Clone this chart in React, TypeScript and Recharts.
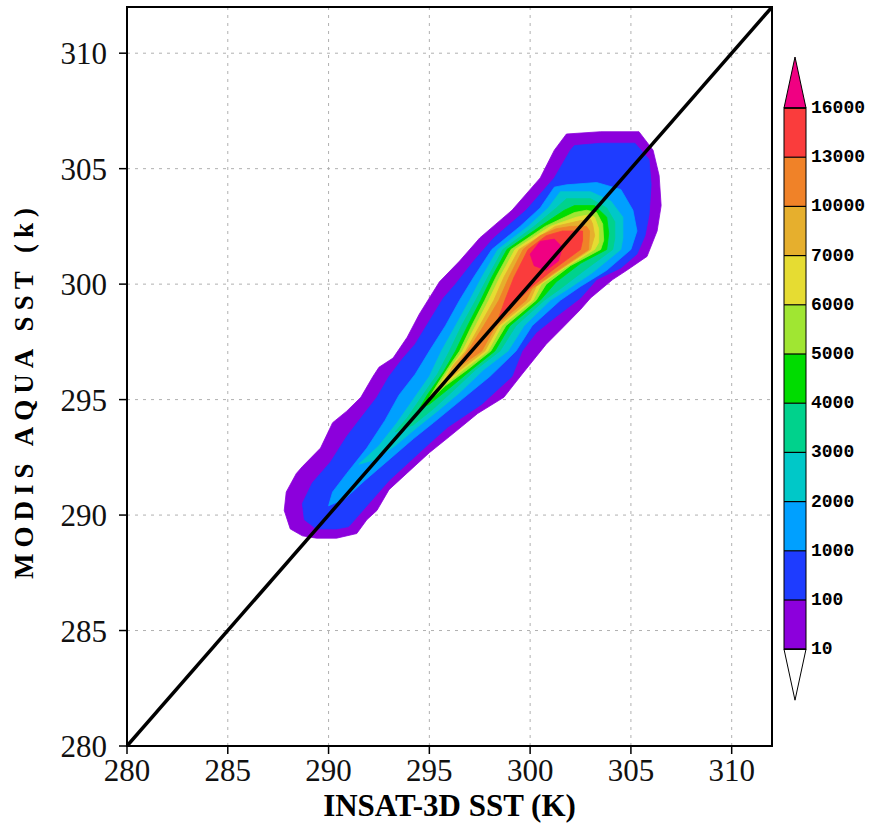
import { ScatterChart, Scatter, XAxis, YAxis, CartesianGrid, ReferenceArea } from 'recharts';

// axis ticks (both axes, K)
const axisTicks = [280, 285, 290, 295, 300, 305, 310];
const oneToOne = [[280, 280], [312, 312]];

// filled count contours, [INSAT-3D SST, MODIS AQUA SST]
const count10 = [
  [301.8, 306.5], [303.5, 306.6], [305.4, 306.6], [306.1, 305.8], [306.4, 304.7], [306.5, 303.4], [306.3, 302.3],
  [305.8, 301.2], [304.8, 300.6], [304.1, 300.2], [303.0, 299.4], [302.5, 298.9], [301.6, 298.1], [300.8, 297.4],
  [299.6, 296.1], [298.7, 295.1], [297.4, 294.4], [296.0, 293.4], [295.0, 292.7], [294.0, 291.9], [293.0, 291.1],
  [292.4, 290.2], [291.9, 289.8], [291.4, 289.2], [290.4, 289.0], [289.4, 289.0], [288.7, 289.1], [288.1, 289.4],
  [287.8, 290.2], [287.9, 291.0], [288.4, 291.8], [288.7, 292.1], [289.6, 292.9], [290.2, 294.0], [290.9, 294.5],
  [291.6, 295.1], [292.2, 296.0], [292.5, 296.4], [293.2, 296.8], [293.9, 297.7], [294.5, 298.7], [295.5, 300.1],
  [296.5, 301.0], [297.5, 302.0], [299.1, 303.2], [300.5, 304.6], [301.2, 305.8],
];
const count100 = [
  [303.5, 306.1], [305.2, 306.1], [305.9, 305.4], [306.0, 304.3], [305.9, 303.0], [305.7, 302.1], [305.3, 301.3],
  [304.5, 300.7], [303.3, 300.2], [302.5, 299.4], [301.3, 298.6], [300.3, 297.9], [299.6, 297.1], [299.1, 296.0],
  [297.6, 294.8], [295.9, 293.8], [295.0, 293.1], [294.0, 292.3], [293.0, 291.5], [292.1, 290.6], [291.4, 289.9],
  [291.0, 289.5], [290.4, 289.4], [289.4, 289.4], [288.8, 289.8], [288.7, 290.5], [289.2, 291.4], [290.1, 292.3],
  [290.9, 293.4], [291.6, 294.2], [292.4, 295.1], [293.0, 296.0], [293.7, 296.8], [294.3, 297.4], [295.0, 298.4],
  [295.7, 299.4], [296.3, 300.0], [297.2, 301.0], [298.2, 302.0], [299.8, 303.2], [301.2, 304.6], [302.0, 305.8],
  [302.2, 306.0],
];
const count1000 = [
  [301.8, 304.3], [303.3, 304.4], [304.5, 304.1], [305.1, 303.2], [305.3, 302.3], [305.0, 301.5], [303.8, 300.6],
  [302.5, 299.9], [301.5, 299.3], [300.1, 298.2], [299.3, 297.1], [298.0, 296.0], [296.6, 295.0], [295.2, 294.0],
  [294.2, 293.3], [293.0, 292.4], [291.8, 291.5], [290.8, 290.7], [290.0, 290.4], [290.2, 291.0], [290.9, 291.8],
  [291.9, 292.9], [292.8, 294.1], [293.5, 295.2], [294.3, 296.1], [295.0, 297.1], [295.8, 298.2], [296.5, 299.3],
  [297.2, 300.3], [298.1, 301.5], [299.5, 302.5], [300.5, 303.3], [301.2, 304.2],
];
const count2000 = [
  [301.5, 304.0], [303.0, 304.0], [304.0, 303.6], [304.6, 302.9], [304.6, 302.0], [304.5, 301.5], [303.1, 300.5],
  [301.9, 299.8], [301.0, 299.3], [299.7, 298.2], [298.9, 297.1], [297.7, 296.3], [296.5, 295.3], [295.4, 294.5],
  [294.4, 293.8], [293.3, 293.0], [292.3, 292.4], [291.5, 292.2], [292.5, 293.0], [293.4, 294.0], [294.2, 295.0],
  [295.0, 296.0], [295.6, 297.1], [296.3, 298.2], [297.0, 299.3], [297.6, 300.3], [298.4, 301.5], [299.9, 302.5],
  [300.9, 303.3],
];
const count3000 = [
  [301.8, 303.7], [303.0, 303.7], [303.8, 303.3], [304.2, 302.7], [304.2, 302.0], [304.1, 301.5], [302.7, 300.6],
  [301.5, 299.8], [300.7, 299.3], [299.3, 298.2], [298.5, 297.1], [297.3, 296.3], [296.2, 295.4], [295.2, 294.6],
  [294.2, 293.9], [293.3, 293.6], [293.9, 294.2], [294.6, 295.1], [295.4, 296.1], [296.0, 297.1], [296.6, 298.2],
  [297.3, 299.3], [297.9, 300.3], [298.65, 301.5], [300.2, 302.5], [301.3, 303.3],
];
const count4000 = [
  [302.2, 303.4], [303.2, 303.4], [303.8, 302.9], [303.9, 302.2], [303.8, 301.5], [302.5, 300.9], [301.3, 300.1],
  [300.5, 299.3], [299.0, 298.2], [298.25, 297.1], [297.1, 296.3], [296.0, 295.5], [295.0, 294.8], [294.5, 294.6],
  [294.9, 295.2], [295.7, 296.2], [296.3, 297.1], [296.9, 298.2], [297.55, 299.3], [298.1, 300.3], [298.85, 301.5],
  [300.5, 302.5], [301.7, 303.2],
];
const count5000 = [
  [302.8, 303.2], [303.3, 303.1], [303.6, 302.6], [303.65, 301.9], [303.5, 301.5], [302.0, 300.8], [300.8, 300.0],
  [300.3, 299.3], [298.8, 298.2], [298.05, 297.1], [296.9, 296.3], [295.8, 295.6], [295.3, 295.2], [295.0, 295.1],
  [295.5, 295.8], [296.1, 296.6], [296.5, 297.1], [297.1, 298.2], [297.75, 299.3], [298.3, 300.3], [299.05, 301.5],
  [300.75, 302.5], [302.2, 303.1],
];
const count6000 = [
  [302.9, 303.0], [303.2, 302.9], [303.4, 302.4], [303.4, 301.8], [303.2, 301.5], [301.7, 300.7], [300.55, 300.0],
  [300.15, 299.3], [298.6, 298.2], [297.9, 297.1], [296.7, 296.3], [295.7, 295.6], [295.4, 295.5], [295.9, 296.2],
  [296.65, 297.1], [297.3, 298.2], [297.95, 299.3], [298.5, 300.3], [299.25, 301.5], [301.0, 302.5], [302.3, 302.9],
];
const count7000 = [
  [303.0, 302.8], [303.1, 302.6], [303.2, 302.1], [303.0, 301.5], [301.45, 300.6], [300.3, 299.9], [300.0, 299.3],
  [298.45, 298.2], [297.75, 297.1], [296.55, 296.3], [296.0, 295.9], [295.8, 295.9], [296.2, 296.5], [296.8, 297.1],
  [297.5, 298.2], [298.2, 299.3], [298.7, 300.3], [299.45, 301.5], [301.25, 302.5], [302.5, 302.75],
];
const count10000 = [
  [302.8, 302.5], [302.95, 302.3], [302.9, 301.5], [301.2, 300.5], [300.1, 299.8], [299.8, 299.3], [298.3, 298.2],
  [297.6, 297.1], [296.6, 296.5], [296.3, 296.4], [297.05, 297.3], [297.7, 298.2], [298.45, 299.3], [298.95, 300.3],
  [299.65, 301.5], [300.5, 302.1], [301.3, 302.4], [302.0, 302.5],
];
const count13000 = [
  [302.6, 302.3], [302.6, 301.9], [302.5, 301.5], [301.1, 300.6], [300.1, 299.9], [299.4, 299.3], [298.5, 298.5],
  [298.3, 298.2], [298.75, 299.3], [299.2, 300.3], [299.9, 301.5], [300.8, 302.1], [301.6, 302.3],
];
const count16000 = [
  [300.0, 301.3], [300.5, 301.85], [301.2, 301.95], [301.6, 301.6], [301.4, 301.0], [300.8, 300.6], [300.2, 300.8],
];

// colour bar
const shadeLevels = [10, 100, 1000, 2000, 3000, 4000, 5000, 6000, 7000, 10000, 13000, 16000];
const shadeColors = [
  '#8c00dc', '#1e3cff', '#00a0ff', '#00c8c8', '#00d28c', '#00dc00',
  '#a0e632', '#e6dc32', '#e6af2d', '#f08228', '#fa3c3c', '#f00082',
];
const shades = [
  count10, count100, count1000, count2000, count3000, count4000,
  count5000, count6000, count7000, count10000, count13000, count16000,
];

const toPoints = (pairs: number[][]) => pairs.map(([x, y]) => ({ x, y }));

const filled = (color: string) => (props: any) => (
  <polygon
    points={props.points.map((p: any) => `${p.x},${p.y}`).join(' ')}
    fill={color}
    stroke={color}
    strokeWidth={0.8}
    strokeLinejoin="round"
  />
);

const noDot = () => <g />;

const XTitle = (props: any) => {
  const { viewBox } = props;
  return (
    <text
      x={viewBox.x + viewBox.width / 2}
      y={viewBox.y + 70}
      textAnchor="middle"
      fontFamily='"Liberation Serif", serif'
      fontWeight="bold"
      fontSize={31}
      fill="#000"
    >
      INSAT-3D SST (K)
    </text>
  );
};

const YTitle = (props: any) => {
  const { viewBox } = props;
  const cx = viewBox.x + 33;
  const cy = viewBox.y + viewBox.height / 2 + 14;
  return (
    <text
      x={cx}
      y={cy}
      transform={`rotate(-90, ${cx}, ${cy})`}
      textAnchor="middle"
      fontFamily='"Liberation Serif", serif'
      fontWeight="bold"
      fontSize={27}
      letterSpacing={6}
      fill="#000"
    >
      MODIS AQUA SST (k)
    </text>
  );
};

function ColorBar() {
  const x = 8;
  const w = 22;
  const top = 59;
  const step = 49.2;
  const tip = 51;
  const bottom = top + (shadeLevels.length - 1) * step;
  const yAt = (i: number) => bottom - i * step;
  const last = shadeLevels.length - 1;
  return (
    <svg width={93} height={670} style={{ position: 'absolute', left: 776, top: 49 }}>
      {shadeLevels.slice(0, last).map((lvl, i) => (
        <rect key={lvl} x={x} y={yAt(i + 1)} width={w} height={step} fill={shadeColors[i]} />
      ))}
      <polygon
        points={`${x},${yAt(last)} ${x + w / 2},${yAt(last) - tip} ${x + w},${yAt(last)}`}
        fill={shadeColors[last]}
        stroke="#000"
        strokeWidth={1}
      />
      <polygon
        points={`${x},${yAt(0)} ${x + w / 2},${yAt(0) + tip} ${x + w},${yAt(0)}`}
        fill="#fff"
        stroke="#000"
        strokeWidth={1}
      />
      <rect x={x} y={yAt(last)} width={w} height={bottom - yAt(last)} fill="none" stroke="#000" strokeWidth={1} />
      {shadeLevels.map((lvl, i) => (
        <g key={lvl}>
          <line x1={x} x2={x + w} y1={yAt(i)} y2={yAt(i)} stroke="#000" strokeWidth={1.2} />
          <text
            x={x + w + 5}
            y={yAt(i)}
            dominantBaseline="central"
            fontFamily='"Liberation Mono", monospace'
            fontWeight="bold"
            fontSize={18}
            fill="#000"
          >
            {lvl}
          </text>
        </g>
      ))}
    </svg>
  );
}

export default function App() {
  return (
    <div style={{ position: 'absolute', left: 0, top: 0, width: 869, height: 824, background: '#fff' }}>
      <ScatterChart width={869} height={824} margin={{ top: 7, right: 97, bottom: 0, left: 0 }}>
        <CartesianGrid stroke="#b0b0b0" strokeDasharray="3 5" />
        <XAxis
          type="number"
          dataKey="x"
          domain={[280, 312]}
          ticks={axisTicks}
          interval={0}
          allowDataOverflow
          height={78}
          tickSize={8}
          tickMargin={5}
          axisLine={{ stroke: '#000', strokeWidth: 2 }}
          tickLine={{ stroke: '#000', strokeWidth: 1.5 }}
          tick={{ fill: '#111', fontSize: 31, fontFamily: '"Liberation Serif", serif' }}
          label={<XTitle />}
        />
        <YAxis
          type="number"
          dataKey="y"
          domain={[280, 312]}
          ticks={axisTicks}
          interval={0}
          allowDataOverflow
          width={127}
          tickSize={8}
          tickMargin={12}
          axisLine={{ stroke: '#000', strokeWidth: 2 }}
          tickLine={{ stroke: '#000', strokeWidth: 1.5 }}
          tick={{ fill: '#111', fontSize: 31, fontFamily: '"Liberation Serif", serif' }}
          label={<YTitle />}
        />
        {shades.map((poly, i) => (
          <Scatter
            key={shadeLevels[i]}
            data={toPoints(poly)}
            fill={shadeColors[i]}
            line={filled(shadeColors[i])}
            shape={noDot}
            isAnimationActive={false}
          />
        ))}
        <Scatter
          data={toPoints(oneToOne)}
          fill="#000"
          line={{ stroke: '#000', strokeWidth: 3.5 }}
          shape={noDot}
          isAnimationActive={false}
        />
        <ReferenceArea x1={280} x2={312} y1={280} y2={312} fill="none" stroke="#000" strokeWidth={2} fillOpacity={0} />
      </ScatterChart>
      <ColorBar />
    </div>
  );
}
